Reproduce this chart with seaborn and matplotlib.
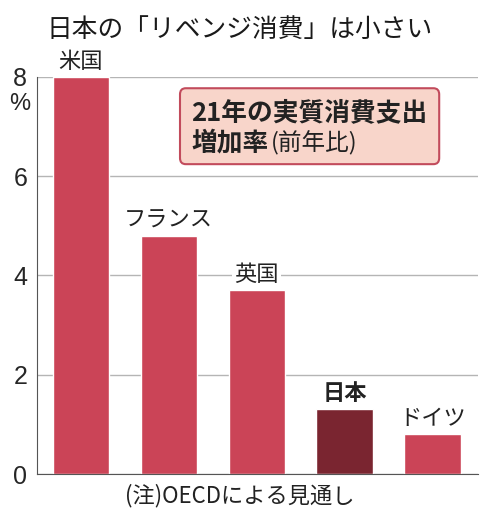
import matplotlib
matplotlib.use("Agg")
import matplotlib.pyplot as plt
from matplotlib.patches import FancyBboxPatch
import seaborn as sns
import pandas as pd

# --- Datos ---
countries = ["米国", "フランス", "英国", "日本", "ドイツ"]
growth = [8.0, 4.8, 3.7, 1.3, 0.8]
bar_colors = ["#CB4457", "#CB4457", "#CB4457", "#7A2530", "#CB4457"]
y_ticks = [0, 2, 4, 6, 8]

title = "日本の「リベンジ消費」は小さい"
box_line1 = "21年の実質消費支出"
box_line2a = "増加率"
box_line2b = "(前年比)"
note = "(注)OECDによる見通し"

df = pd.DataFrame({"country": countries, "growth": growth})

sns.set_style("white")
plt.rcParams["font.family"] = ["Noto Sans CJK JP", "DejaVu Sans"]
NUM_FONT = ["Liberation Sans", "DejaVu Sans"]

fig = plt.figure(figsize=(4.8, 5.13), dpi=100)
ax = fig.add_axes([0.077, 0.076, 0.919, 0.774])

sns.barplot(data=df, x="country", y="growth", hue="country",
            palette=dict(zip(countries, bar_colors)), legend=False,
            width=0.64, saturation=1, ax=ax, zorder=3)

ax.set_ylim(0, 8)
ax.set_xlim(-0.5, 4.52)
ax.set_yticks(y_ticks)
ax.set_yticklabels([str(t) for t in y_ticks], family=NUM_FONT, fontsize=18)
ax.set_xticks([])
ax.set_xlabel("")
ax.set_ylabel("")
ax.grid(axis="y", color="#B5B5B5", linewidth=1, zorder=0)
for s in ["top", "right"]:
    ax.spines[s].set_visible(False)
ax.spines["left"].set_color("#555555")
ax.spines["bottom"].set_color("#555555")
ax.spines["left"].set_zorder(4)
ax.spines["bottom"].set_zorder(4)
ax.tick_params(axis="y", direction="in", length=6, color="#555555", pad=7)

# "%" bajo el 8
ax.text(-0.7, 7.45, "%", fontsize=17, ha="center", va="center",
        family=NUM_FONT, clip_on=False)

# etiquetas sobre las barras
for i, (c, v) in enumerate(zip(countries, growth)):
    bold = c == "日本"
    ax.annotate(c, (i, v), xytext=(0, 3), textcoords="offset points",
                ha="center", va="bottom", fontsize=16,
                fontweight="bold" if bold else "normal", color="#222222",
                bbox=dict(facecolor="white", edgecolor="none", pad=1.5),
                zorder=5, annotation_clip=False)

# cuadro de leyenda
box = FancyBboxPatch((0.375, 0.68), 0.54, 0.148, transform=fig.transFigure,
                     boxstyle="round,pad=0,rounding_size=0.012",
                     facecolor="#F8D5CA", edgecolor="#C24B5C", linewidth=1.5,
                     zorder=6)
fig.patches.append(box)
fig.text(0.398, 0.781, box_line1, fontsize=18.5, fontweight="bold",
         color="#222222", va="center", zorder=7)
t2 = fig.text(0.398, 0.721, box_line2a, fontsize=18.5, fontweight="bold",
              color="#222222", va="center", zorder=7)
fig.canvas.draw()
bb = t2.get_window_extent()
fig.text(bb.x1 / fig.bbox.width + 0.005, 0.721, box_line2b, fontsize=17,
         color="#222222", va="center", zorder=7)

# título y nota
fig.text(0.5, 0.942, title, fontsize=18.5, ha="center", va="center",
         color="#1A1A1A")
fig.text(0.5, 0.033, note, fontsize=16, ha="center", va="center",
         color="#222222")

fig.savefig("out.png", dpi=100)
